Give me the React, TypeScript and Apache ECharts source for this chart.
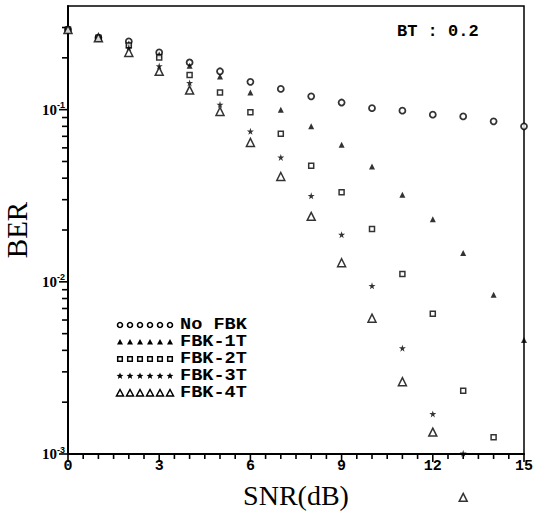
import React, { useEffect, useRef } from 'react';
import * as echarts from 'echarts';

const snr = [0, 1, 2, 3, 4, 5, 6, 7, 8, 9, 10, 11, 12, 13, 14, 15];
const noFbk = [0.292, 0.262, 0.249, 0.215, 0.188, 0.167, 0.145, 0.132, 0.1195, 0.110, 0.102, 0.0987, 0.0935, 0.0914, 0.0855, 0.080];
const fbk1T = [0.292, 0.262, 0.242, 0.209, 0.180, 0.156, 0.126, 0.100, 0.080, 0.0626, 0.0468, 0.0320, 0.0231, 0.0147, 0.0084, 0.0046];
const fbk2T = [0.292, 0.262, 0.236, 0.201, 0.159, 0.126, 0.0965, 0.0725, 0.0472, 0.0331, 0.0203, 0.0111, 0.00652, 0.00233, 0.00125, null];
const fbk3T = [0.292, 0.262, 0.229, 0.179, 0.143, 0.107, 0.0748, 0.0528, 0.0316, 0.0188, 0.00948, 0.00412, 0.00171, 0.00101, null, null];
const fbk4T = [0.292, 0.262, 0.215, 0.167, 0.130, 0.0977, 0.0645, 0.0409, 0.0240, 0.0129, 0.00615, 0.00263, 0.00134, 0.00056, null, null];

const seriesNames = ['No FBK', 'FBK-1T', 'FBK-2T', 'FBK-3T', 'FBK-4T'];
const xTicks = [0, 3, 6, 9, 12, 15];
const yMajor = [0.001, 0.01, 0.1];
const yMinorMultipliers = [2, 3, 4, 5, 6, 7, 8, 9];
const xMinorStep = 0.5;
const annotation = 'BT : 0.2';

const Y_MIN = 0.001;
const Y_MAX = 0.4;

const STAR = 'path://M50,0 L61,35 L98,35 L68,57 L79,91 L50,70 L21,91 L32,57 L2,35 L39,35 Z';

function pairs(arr: (number | null)[]) {
  return snr.map((x, i) => [x, arr[i]]).filter((d) => d[1] != null);
}

function starPoints(cx: number, cy: number, R: number, r: number) {
  const pts: number[][] = [];
  for (let i = 0; i < 10; i++) {
    const a = -Math.PI / 2 + (i * Math.PI) / 5;
    const rr = i % 2 === 0 ? R : r;
    pts.push([cx + rr * Math.cos(a), cy + rr * Math.sin(a)]);
  }
  return pts;
}

function legendShape(kind: number, cx: number, cy: number): any {
  switch (kind) {
    case 0:
      return { type: 'circle', shape: { cx, cy, r: 2.5 }, style: { fill: '#fff', stroke: '#000', lineWidth: 1.6 } };
    case 1:
      return { type: 'polygon', shape: { points: [[cx, cy - 3], [cx + 3, cy + 2.5], [cx - 3, cy + 2.5]] }, style: { fill: '#000' } };
    case 2:
      return { type: 'rect', shape: { x: cx - 2.3, y: cy - 2.3, width: 4.6, height: 4.6 }, style: { fill: '#fff', stroke: '#000', lineWidth: 1.5 } };
    case 3:
      return { type: 'polygon', shape: { points: starPoints(cx, cy, 3.6, 1.6) }, style: { fill: '#000' } };
    default:
      return { type: 'polygon', shape: { points: [[cx, cy - 3.5], [cx + 3.5, cy + 3], [cx - 3.5, cy + 3]] }, style: { fill: '#fff', stroke: '#000', lineWidth: 1.5 } };
  }
}

export default function App() {
  const ref = useRef<HTMLDivElement>(null);
  useEffect(() => {
    if (!ref.current) return;
    const chart = echarts.init(ref.current, undefined, { renderer: 'svg' });

    // tick marks: [x, y, axis(0=x,1=y), length]
    const tickData: number[][] = [];
    xTicks.forEach((x) => tickData.push([x, Y_MIN, 0, 8]));
    for (let x = 0; x < 15; x += xMinorStep) {
      if (!xTicks.includes(x)) tickData.push([x, Y_MIN, 0, 5]);
    }
    yMajor.forEach((d) => {
      tickData.push([0, d, 1, 9]);
      yMinorMultipliers.forEach((m) => {
        const v = +(m * d).toPrecision(3);
        if (v < Y_MAX) tickData.push([0, v, 1, 6]);
      });
    });

    const legendGraphics: any[] = [];
    const rowY = [325, 342, 359, 376, 393];
    seriesNames.forEach((name, k) => {
      for (let i = 0; i < 6; i++) {
        legendGraphics.push(legendShape(k, 120 + i * 10, rowY[k]));
      }
      legendGraphics.push({
        type: 'text',
        x: 180,
        y: rowY[k],
        scaleX: 1.16,
        style: { text: name, fontSize: 16, lineHeight: 15, fontWeight: 'bold', fontFamily: 'Liberation Mono', fill: '#000', verticalAlign: 'middle', align: 'left' },
      });
    });
    legendGraphics.push({
      type: 'text',
      x: 397,
      y: 31,
      style: { text: annotation, fontSize: 17, fontWeight: 'bold', fontFamily: 'Liberation Mono', fill: '#000', verticalAlign: 'middle', align: 'left' },
    });

    const common = { type: 'scatter', clip: false, yAxisIndex: 0 };

    chart.setOption({
      animation: false,
      backgroundColor: '#fff',
      grid: {
        left: 68, right: 18, top: 6, bottom: 59,
        containLabel: false, outerBoundsMode: 'none',
        show: true, borderColor: '#000', borderWidth: 1.5, backgroundColor: 'transparent',
      },
      xAxis: {
        type: 'value',
        min: 0,
        max: 15,
        interval: 3,
        axisLine: { show: true, onZero: false, lineStyle: { color: '#000', width: 2 } },
        axisTick: { show: false },
        axisLabel: {
          color: '#000', fontSize: 15, fontWeight: 'bold', fontFamily: 'Liberation Mono', margin: 5,
          customValues: xTicks,
        },
        splitLine: { show: false },
        name: 'SNR(dB)',
        nameLocation: 'middle',
        nameGap: 27,
        nameTextStyle: { color: '#000', fontSize: 28, fontFamily: 'Liberation Serif' },
      },
      yAxis: {
        type: 'log',
        logBase: 10,
        min: Y_MIN,
        max: Y_MAX,
        position: 'left',
        axisLine: { show: true, onZero: false, lineStyle: { color: '#000', width: 2 } },
        axisTick: { show: false },
        axisLabel: {
          customValues: yMajor,
          margin: 3,
          color: '#000',
          formatter: (v: number) => {
            const e = Math.log10(v);
            if (Math.abs(e - Math.round(e)) > 1e-6) return '';
            return '{b|10}{s|' + Math.round(e) + '}';
          },
          rich: {
            b: { fontSize: 15, fontWeight: 'bold', fontFamily: 'Liberation Serif', color: '#000' },
            s: { fontSize: 9, fontWeight: 'bold', fontFamily: 'Liberation Sans', color: '#000', padding: [0, 0, 9, 0] },
          },
        },
        splitLine: { show: false },
        name: 'BER',
        nameLocation: 'middle',
        nameGap: 27,
        nameRotate: 90,
        nameTextStyle: { color: '#000', fontSize: 29, fontFamily: 'Liberation Serif' },
      },
      graphic: legendGraphics,
      series: [
        {
          type: 'custom',
          name: 'ticks',
          silent: true,
          clip: false,
          data: tickData,
          renderItem: (params: any, api: any) => {
            const p = api.coord([api.value(0), api.value(1)]);
            const axis = api.value(2);
            const len = api.value(3);
            const shape = axis === 0
              ? { x1: p[0], y1: p[1], x2: p[0], y2: p[1] + len }
              : { x1: p[0] - len, y1: p[1], x2: p[0], y2: p[1] };
            return { type: 'line', shape, style: { stroke: '#000', lineWidth: 1.6 } };
          },
        },
        { ...common, name: seriesNames[0], data: pairs(noFbk), symbol: 'circle', symbolSize: 6, itemStyle: { color: '#fff', borderColor: '#000', borderWidth: 1.8 } },
        { ...common, name: seriesNames[1], data: pairs(fbk1T), symbol: 'triangle', symbolSize: 6, itemStyle: { color: '#000' } },
        { ...common, name: seriesNames[2], data: pairs(fbk2T), symbol: 'rect', symbolSize: 5, itemStyle: { color: '#fff', borderColor: '#000', borderWidth: 1.5 } },
        { ...common, name: seriesNames[3], data: pairs(fbk3T), symbol: STAR, symbolSize: 7, itemStyle: { color: '#000' } },
        { ...common, name: seriesNames[4], data: pairs(fbk4T), symbol: 'triangle', symbolSize: [8, 8], itemStyle: { color: '#fff', borderColor: '#000', borderWidth: 1.5 } },
      ],
    });
    return () => chart.dispose();
  }, []);
  return <div ref={ref} style={{ position: 'absolute', left: 0, top: 0, width: 542, height: 513, background: '#fff' }} />;
}
